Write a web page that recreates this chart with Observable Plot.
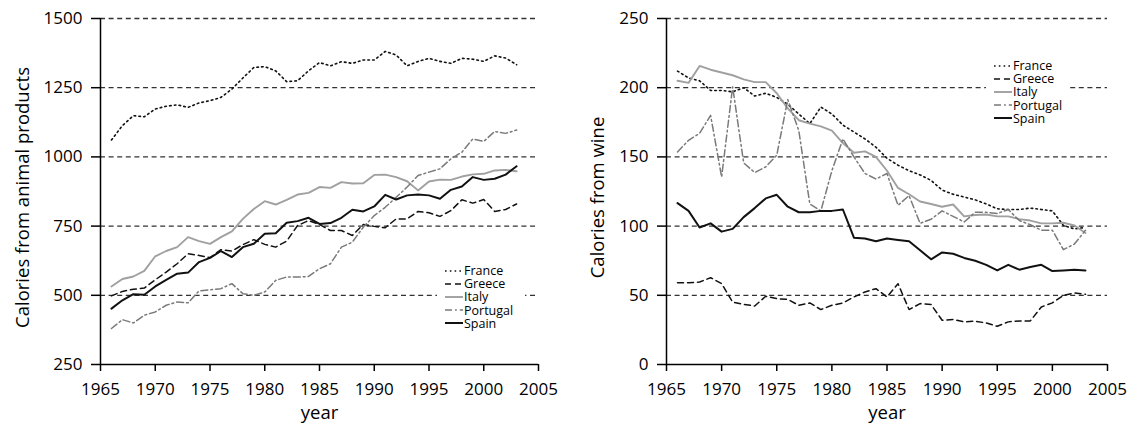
<!DOCTYPE html>
<html>
<head>
<meta charset="utf-8">
<script src="https://cdn.jsdelivr.net/npm/d3@7"></script>
<script src="https://cdn.jsdelivr.net/npm/@observablehq/plot@0.6"></script>
<style>
  body { margin: 0; background: white; }
  #wrap { position: relative; width: 1127px; height: 427px; font-family: "Open Sans", sans-serif; }
  .panel { position: absolute; top: 0; }
  .legend { position: absolute; background: white; font-size: 12.5px; line-height: 13px; color: #000; }
  .legend .row { display: flex; align-items: center; height: 13.2px; white-space: nowrap; overflow: visible; }
  .legend .row span { display: inline-block; height: 13px; line-height: 13px; overflow: visible; }
  .legend svg { display: block; margin-right: 1px; }
</style>
</head>
<body>
<div id="wrap"></div>
<script>
const years = [1966,1967,1968,1969,1970,1971,1972,1973,1974,1975,1976,1977,1978,1979,1980,1981,1982,1983,1984,1985,1986,1987,1988,1989,1990,1991,1992,1993,1994,1995,1996,1997,1998,1999,2000,2001,2002,2003];
const countries = ["France", "Greece", "Italy", "Portugal", "Spain"];
const xTicks = [1965,1970,1975,1980,1985,1990,1995,2000,2005];
const animalTicks = [250,500,750,1000,1250,1500];
const wineTicks = [0,50,100,150,200,250];

const animalFrance = [1061,1113,1149,1145,1173,1183,1188,1179,1195,1203,1215,1245,1285,1323,1326,1311,1272,1275,1311,1341,1329,1344,1338,1350,1350,1381,1368,1329,1345,1356,1345,1338,1356,1353,1345,1365,1357,1333];
const animalGreece = [498,514,522,526,556,584,614,650,644,636,665,660,683,701,684,674,696,752,770,756,734,734,716,756,749,744,776,776,803,798,785,806,845,833,846,803,810,830];
const animalItaly = [532,559,568,588,641,660,674,710,696,686,710,731,776,812,840,828,845,864,870,891,888,909,904,905,935,936,927,912,879,911,918,917,929,937,939,951,953,948];
const animalPortugal = [380,412,400,428,440,464,476,473,516,520,524,542,506,500,512,554,566,566,568,596,614,674,692,746,788,818,854,891,933,945,957,993,1017,1065,1056,1092,1085,1097];
const animalSpain = [452,482,504,502,532,556,578,582,620,635,660,638,674,686,722,724,762,768,780,758,761,780,809,803,821,863,846,861,864,861,849,881,893,927,917,921,936,966];

const wineFrance = [212,207,205,198,198,197,200,194,196,193,188,181,174,186,181,173,168,163,157,149,144,140,137,133,126,123,121,119,116,112.5,112,112,113,112,111,100.5,98,99];
const wineGreece = [59,59,59.6,62.7,58.4,45,43.5,42.3,49.3,47.6,47,42.8,44.5,39.7,42.8,44.5,48.8,52.4,54.8,48.8,58.4,39.7,44,43.3,32,32.5,30.8,31.3,30,27.6,30.8,31.5,31.5,41.6,44.5,50,51.7,50.7];
const wineItaly = [205,203.5,215.7,213,211,209,206,204,204,196,185,176.5,174,172,169,160,153,154,150,140,127.6,123,117.8,116,114,115.6,107,108,108.4,107,107,105,104,102,102,102.4,100.5,95];
const winePortugal = [153.6,162,167,180,135.5,200.6,145.7,138.7,142.8,151.2,191.4,169,116,111,140,163,150,138,134,138,115,122,102,105,111,107,103,110,110,109,112,104,101,97,97,83,87,97];
const wineSpain = [116.6,111,99,102,96,98,106.5,113,120,122.6,114,110,110,111,111,112,91.6,91,89,91,90,89,82.5,76,81,80,77,75,72,68,72,68.5,70.5,72,67.5,68,68.5,68];

const styles = {
  France:   {stroke: "#111", strokeWidth: 1.6, strokeDasharray: "1.6,3.2"},
  Greece:   {stroke: "#111", strokeWidth: 1.5, strokeDasharray: "6,4"},
  Italy:    {stroke: "#a0a0a0", strokeWidth: 1.9, strokeDasharray: null},
  Portugal: {stroke: "#7a7a7a", strokeWidth: 1.5, strokeDasharray: "7,3,1.8,3"},
  Spain:    {stroke: "#111", strokeWidth: 2, strokeDasharray: null}
};

function table(arrs) {
  const rows = [];
  countries.forEach((c, i) => years.forEach((y, j) => rows.push({country: c, year: y, value: arrs[i][j]})));
  return rows;
}
const animalData = table([animalFrance, animalGreece, animalItaly, animalPortugal, animalSpain]);
const wineData = table([wineFrance, wineGreece, wineItaly, winePortugal, wineSpain]);

function panel({data, width, marginLeft, marginRight, yDomain, yTicks, ylabel, labelDx}) {
  const grid = yTicks.slice(1);
  return Plot.plot({
    width, height: 427, marginLeft, marginRight, marginTop: 18, marginBottom: 63,
    style: {fontFamily: "Open Sans, sans-serif", fontSize: "17px", color: "#000", background: "white"},
    x: {domain: [1965, 2005]},
    y: {domain: yDomain},
    marks: [
      Plot.ruleY(grid, {stroke: "#333", strokeWidth: 1.3, strokeDasharray: "5,3.6"}),
      ...countries.map(c => Plot.line(data.filter(d => d.country === c), {
        x: "year", y: "value", ...styles[c], strokeLinejoin: "round"
      })),
      Plot.ruleX([1965], {stroke: "#000", strokeWidth: 1.5}),
      Plot.ruleY([yDomain[0]], {stroke: "#000", strokeWidth: 1.5}),
      Plot.axisX({ticks: xTicks, tickFormat: d => String(d), tickSize: 7, tickPadding: 11, label: null, strokeWidth: 1.5}),
      Plot.axisY({ticks: yTicks, tickFormat: d => String(d), tickSize: 9, tickPadding: 9, label: null, strokeWidth: 1.5}),
      Plot.text([ylabel], {frameAnchor: "left", textAnchor: "middle", dx: labelDx, dy: 6, rotate: -90, fontSize: 18.5, fill: "#000"}),
      Plot.text(["year"], {frameAnchor: "bottom", textAnchor: "middle", dy: 54, fontSize: 18.5, fill: "#000"})
    ]
  });
}

const wrap = document.getElementById("wrap");
const left = panel({data: animalData, width: 560, marginLeft: 100, marginRight: 22, yDomain: [250, 1500], yTicks: animalTicks, ylabel: "Calories from animal products", labelDx: -77});
left.classList.add("panel"); left.style.left = "0px";
const right = panel({data: wineData, width: 567, marginLeft: 106, marginRight: 20, yDomain: [0, 250], yTicks: wineTicks, ylabel: "Calories from wine", labelDx: -68});
right.classList.add("panel"); right.style.left = "560px";
wrap.appendChild(left);
wrap.appendChild(right);

function legend(x, y, w, h) {
  const div = document.createElement("div");
  div.className = "legend";
  Object.assign(div.style, {left: x + "px", top: y + "px", width: w + "px", height: h + "px", paddingTop: "1px", boxSizing: "border-box", paddingLeft: "8px"});
  countries.forEach(c => {
    const s = styles[c];
    const row = document.createElement("div");
    row.className = "row";
    row.innerHTML = `<svg width="18" height="10"><line x1="0" y1="5" x2="18" y2="5" stroke="${s.stroke}" stroke-width="${s.strokeWidth}" ${s.strokeDasharray ? `stroke-dasharray="${s.strokeDasharray}"` : ""}/></svg><span>${c}</span>`;
    div.appendChild(row);
  });
  wrap.appendChild(div);
}
legend(437, 263, 88, 68);
legend(986, 58, 82, 68);
</script>
</body>
</html>
